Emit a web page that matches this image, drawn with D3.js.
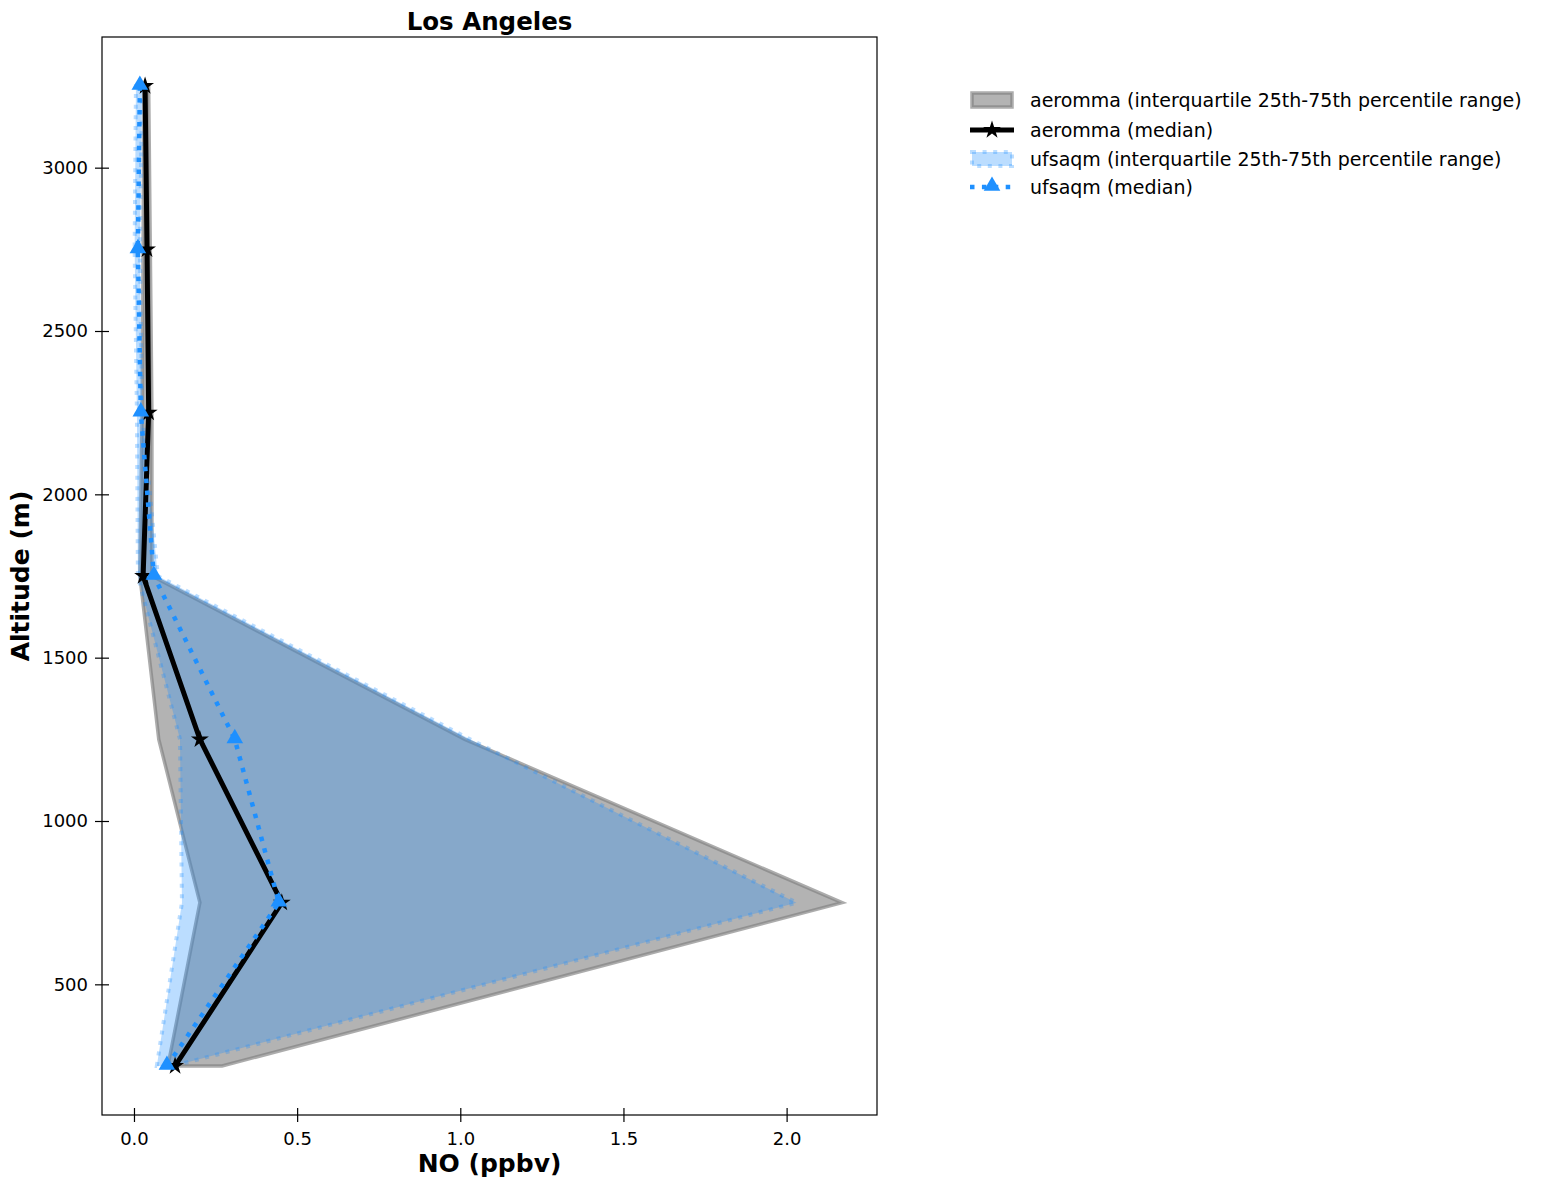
<!DOCTYPE html>
<html>
<head>
<meta charset="utf-8">
<script src="https://cdn.jsdelivr.net/npm/d3@7"></script>
<style>
  body { margin: 0; background: #fff; }
  text { font-family: "DejaVu Sans", sans-serif; }
</style>
</head>
<body>
<svg width="1566" height="1185"></svg>
<script>
const svg = d3.select('svg');

// altitude bins (m)
const altitude = [250, 750, 1250, 1750, 2250, 2750, 3250];

// aeromma NO (ppbv)
const aerommaLow    = [0.104, 0.202, 0.076, 0.018, 0.025, 0.028, 0.030];
const aerommaHigh   = [0.270, 2.170, 1.014, 0.055, 0.055, 0.050, 0.045];
const aerommaMedian = [0.126, 0.453, 0.202, 0.028, 0.045, 0.040, 0.034];

// ufsaqm NO (ppbv)
const ufsLow    = [0.070, 0.147, 0.141, 0.012, 0.009, 0.002, 0.006];
const ufsHigh   = [0.120, 2.030, 1.030, 0.073, 0.025, 0.018, 0.025];
const ufsMedian = [0.101, 0.444, 0.309, 0.061, 0.021, 0.012, 0.018];

const xTicks = [0, 0.5, 1.0, 1.5, 2.0];
const yTicks = [500, 1000, 1500, 2000, 2500, 3000];

const legendLabels = [
  'aeromma (interquartile 25th-75th percentile range)',
  'aeromma (median)',
  'ufsaqm (interquartile 25th-75th percentile range)',
  'ufsaqm (median)'
];

const BLUE = '#1e90ff';
const PLOT_L = 102, PLOT_R = 877, PLOT_T = 37, PLOT_B = 1115;

const x = d3.scaleLinear().domain([-0.098, 2.277]).range([PLOT_L, PLOT_R]);
const y = d3.scaleLinear().domain([100, 3400]).range([PLOT_B, PLOT_T]);

const rows = altitude.map((a, i) => ({
  a, aLo: aerommaLow[i], aHi: aerommaHigh[i], aMed: aerommaMedian[i],
  uLo: ufsLow[i], uHi: ufsHigh[i], uMed: ufsMedian[i]
}));

const plot = svg.append('g');

// interquartile band as a closed polygon (low edge up, high edge back down)
function bandPath(lo, hi) {
  const pts = rows.map(d => [x(d[lo]), y(d.a)])
    .concat(rows.slice().reverse().map(d => [x(d[hi]), y(d.a)]));
  return 'M' + pts.join('L') + 'Z';
}

plot.append('path')
  .attr('d', bandPath('aLo', 'aHi'))
  .attr('fill', 'grey').attr('fill-opacity', 0.6)
  .attr('stroke', 'grey').attr('stroke-opacity', 0.65)
  .attr('stroke-width', 3.5);

plot.append('path')
  .attr('d', bandPath('uLo', 'uHi'))
  .attr('fill', BLUE).attr('fill-opacity', 0.3)
  .attr('stroke', BLUE).attr('stroke-opacity', 0.3)
  .attr('stroke-width', 4).attr('stroke-dasharray', '4,6.6');

// medians
const lineA = d3.line().x(d => x(d.aMed)).y(d => y(d.a));
const lineU = d3.line().x(d => x(d.uMed)).y(d => y(d.a));

plot.append('path').datum(rows).attr('d', lineA)
  .attr('fill', 'none').attr('stroke', 'black').attr('stroke-width', 5);
plot.selectAll('.star').data(rows).join('path')
  .attr('transform', d => `translate(${x(d.aMed)},${y(d.a)})`)
  .attr('d', d3.symbol(d3.symbolStar, 100))
  .attr('fill', 'black');

plot.append('path').datum(rows).attr('d', lineU)
  .attr('fill', 'none').attr('stroke', BLUE).attr('stroke-width', 4.5)
  .attr('stroke-dasharray', '4.5,7.4');
plot.selectAll('.tri').data(rows).join('path')
  .attr('transform', d => `translate(${x(d.uMed)},${y(d.a) - 1})`)
  .attr('d', d3.symbol(d3.symbolTriangle, 120))
  .attr('fill', BLUE);

// frame
svg.append('rect')
  .attr('x', PLOT_L).attr('y', PLOT_T)
  .attr('width', PLOT_R - PLOT_L).attr('height', PLOT_B - PLOT_T)
  .attr('fill', 'none').attr('stroke', 'black').attr('stroke-width', 1.2);

// axes with in-out ticks
const xAxis = d3.axisBottom(x).tickValues(xTicks).tickFormat(d3.format('.1f'))
  .tickSizeInner(7).tickSizeOuter(0).tickPadding(10);
const xg = svg.append('g').attr('transform', `translate(0,${PLOT_B})`).call(xAxis);
xg.select('.domain').remove();
xg.selectAll('.tick line').attr('y1', -7).attr('stroke-width', 1.2);
xg.selectAll('.tick text')
  .style('font-size', '18px').style('font-family', '"DejaVu Sans", sans-serif')
  .attr('fill', 'black');

const yAxis = d3.axisLeft(y).tickValues(yTicks).tickFormat(d3.format('d'))
  .tickSizeInner(7).tickSizeOuter(0).tickPadding(7);
const yg = svg.append('g').attr('transform', `translate(${PLOT_L},0)`).call(yAxis);
yg.select('.domain').remove();
yg.selectAll('.tick line').attr('x1', 7).attr('stroke-width', 1.2);
yg.selectAll('.tick text')
  .style('font-size', '18px').style('font-family', '"DejaVu Sans", sans-serif')
  .attr('fill', 'black');

// titles
svg.append('text').attr('x', (PLOT_L + PLOT_R) / 2).attr('y', 30)
  .attr('text-anchor', 'middle').style('font-size', '24.5px').attr('font-weight', 'bold')
  .text('Los Angeles');
svg.append('text').attr('x', (PLOT_L + PLOT_R) / 2).attr('y', 1172)
  .attr('text-anchor', 'middle').style('font-size', '25px').attr('font-weight', 'bold')
  .text('NO (ppbv)');
svg.append('text').attr('transform', `translate(29,${(PLOT_T + PLOT_B) / 2}) rotate(-90)`)
  .attr('text-anchor', 'middle').style('font-size', '25px').attr('font-weight', 'bold')
  .text('Altitude (m)');

// legend
const lg = svg.append('g');
const ly = [100, 130, 159, 187];
const hx0 = 970, hx1 = 1014;

lg.append('rect').attr('x', hx0 + 2).attr('y', ly[0] - 7).attr('width', hx1 - hx0 - 4).attr('height', 14)
  .attr('fill', 'grey').attr('fill-opacity', 0.6)
  .attr('stroke', 'grey').attr('stroke-opacity', 0.65).attr('stroke-width', 3.5);

lg.append('line').attr('x1', hx0).attr('x2', hx1).attr('y1', ly[1]).attr('y2', ly[1])
  .attr('stroke', 'black').attr('stroke-width', 5);
lg.append('path').attr('transform', `translate(${(hx0 + hx1) / 2},${ly[1]})`)
  .attr('d', d3.symbol(d3.symbolStar, 100)).attr('fill', 'black');

lg.append('rect').attr('x', hx0 + 2).attr('y', ly[2] - 7).attr('width', hx1 - hx0 - 4).attr('height', 14)
  .attr('fill', BLUE).attr('fill-opacity', 0.3)
  .attr('stroke', BLUE).attr('stroke-opacity', 0.3).attr('stroke-width', 4)
  .attr('stroke-dasharray', '4,6.6');

lg.append('line').attr('x1', hx0).attr('x2', hx1).attr('y1', ly[3]).attr('y2', ly[3])
  .attr('stroke', BLUE).attr('stroke-width', 4.5).attr('stroke-dasharray', '4.5,7.4');
lg.append('path').attr('transform', `translate(${(hx0 + hx1) / 2},${ly[3] - 1})`)
  .attr('d', d3.symbol(d3.symbolTriangle, 120)).attr('fill', BLUE);

lg.selectAll('.lt').data(legendLabels).join('text')
  .attr('x', 1030).attr('y', (d, i) => ly[i] + 7)
  .style('font-size', '19px').attr('fill', 'black')
  .text(d => d);
</script>
</body>
</html>
